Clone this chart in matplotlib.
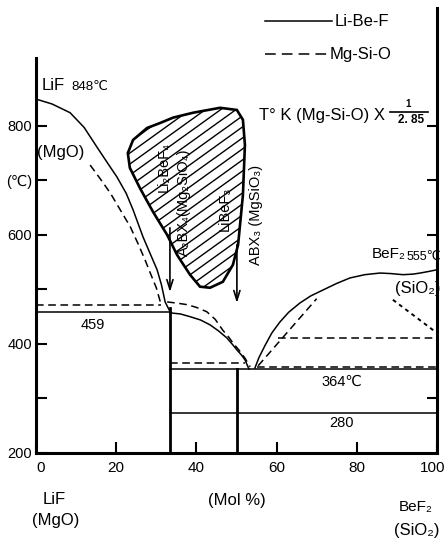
import matplotlib
matplotlib.use('Agg')
import matplotlib.pyplot as plt
import matplotlib.transforms as mtransforms
import numpy as np
from matplotlib.patches import Polygon
from matplotlib.lines import Line2D

plt.rcParams['font.family'] = ['Liberation Sans', 'DejaVu Sans']

# ---------------- data (mol % BeF2, temperature in C) ----------------
lbf_left_x = [0, 4, 8.5, 12, 15.2, 18, 20.2, 22.5, 24.2, 26.7, 28.5, 30.2, 31.3, 32.2, 33.3]
lbf_left_t = [849, 840, 824, 797, 761, 730, 706, 676, 646, 596, 565, 536, 508, 477, 461]

mso_left_x = [13.5, 16, 18.5, 21, 23.5, 25.5, 27.2, 28.5, 30, 31.2]
mso_left_t = [728, 703, 677, 646, 615, 583, 554, 530, 503, 472]

lbf_mid_x = [33.4, 36, 38.4, 41, 43.4, 45.5, 47.6, 49, 50.1, 51.2, 52.1, 53.1]
lbf_mid_t = [457, 455, 450, 444, 435, 424, 411, 399, 389, 380, 371, 354]

mso_mid_x = [32.7, 35, 37.7, 40, 42.6, 44.7, 46.6, 48, 49.1, 50.7, 52.1, 53.4]
mso_mid_t = [477, 475, 472, 467, 459, 445, 425, 413, 402, 388, 374, 358]

lbf_right_x = [54.6, 55.6, 57.1, 58.8, 60.8, 63, 65.8, 68.5, 71.6, 75, 78.3, 82, 85.8, 88.5, 91.5, 94, 95.8, 98, 100]
lbf_right_t = [356, 375, 397, 420, 440, 458, 475, 488, 499, 511, 521, 527, 530, 529, 527, 528, 530, 533, 536]

mso_right_x = [55.4, 70]
mso_right_t = [360, 483]

mso_dotted_x = [89, 100]
mso_dotted_t = [481, 420]

# horizontal invariant lines: (x_start, x_end, T)
lbf_solid_h = [(0, 33.3, 458), (33.3, 100, 354), (33.3, 100, 273)]
mso_dash_h = [(0, 31.2, 472), (33.3, 52, 365), (55, 100, 358), (60.3, 100, 411)]

# vertical compound lines: (x, T_top)
compound_x = [33.3, 50.0]
compound_top = [466, 354]

# hatched region outline
blob_x = [22.9, 24.2, 27.7, 30.9, 34.2, 39.2, 45.9, 50.1, 51.6, 52.1, 51.6, 50.4, 49.1,
          46.6, 43.4, 40.9, 38.4, 35.2, 32.7, 29.2, 25.9, 23.4]
blob_t = [750, 774, 796, 805, 815, 824, 833, 829, 811, 765, 673, 582, 545,
          514, 503, 505, 527, 563, 600, 642, 686, 723]

# arrows: x, T_start, T_end
arrow_x = [33.4, 50.1]
arrow_t0 = [613, 582]
arrow_t1 = [495, 475]

xticks = [0, 20, 40, 60, 80, 100]
yticks = [200, 300, 400, 500, 600, 700, 800]
ytick_labels = ['200', '', '400', '', '600', '(\u2103)', '800']

# ---------------- figure ----------------
W, H = 446, 539
fig = plt.figure(figsize=(W / 100, H / 100), dpi=100)
ax = fig.add_axes([36 / W, 1 - 453 / H, (437 - 36) / W, (453 - 8) / H])
ax.set_xlim(0, 100)
ax.set_ylim(200, 1016)

def fx(px):
    return px / W

def fy(py):
    return 1 - py / H

ax.spines['top'].set_visible(False)
ax.spines['right'].set_visible(False)
ax.spines['left'].set_bounds(200, 925)
for s in ['left', 'bottom']:
    ax.spines[s].set_linewidth(2.2)

ax.set_xticks(xticks)
ax.set_xticklabels([str(v) for v in xticks])
ax.set_yticks(yticks)
ax.set_yticklabels(ytick_labels)
ax.tick_params(axis='both', direction='in', length=8, width=1.5, labelsize=10.5)
ax.tick_params(axis='x', pad=6, labelsize=11)
ax.tick_params(axis='y', pad=3)

xl = ax.get_xticklabels()
xl[0].set_transform(xl[0].get_transform() + mtransforms.ScaledTranslation(5 / 100, 0, fig.dpi_scale_trans))
xl[-1].set_transform(xl[-1].get_transform() + mtransforms.ScaledTranslation(-4 / 100, 0, fig.dpi_scale_trans))

sec = ax.secondary_yaxis('right')
sec.set_yticks([300, 600, 700, 800])
sec.tick_params(direction='in', length=7, width=1.5, labelright=False)
sec.spines['right'].set_linewidth(2.2)

lw = 1.1
dash = (5, 3)

# solid (Li-Be-F)
ax.plot(lbf_left_x, lbf_left_t, color='black', lw=lw)
ax.plot(lbf_mid_x, lbf_mid_t, color='black', lw=lw)
ax.plot(lbf_right_x, lbf_right_t, color='black', lw=lw)
for x0, x1, t in lbf_solid_h:
    ax.plot([x0, x1], [t, t], color='black', lw=lw)

# dashed (Mg-Si-O)
ax.plot(mso_left_x, mso_left_t, color='black', lw=lw, dashes=dash)
ax.plot(mso_mid_x, mso_mid_t, color='black', lw=lw, dashes=dash)
ax.plot(mso_right_x, mso_right_t, color='black', lw=lw, dashes=dash)
ax.plot(mso_dotted_x, mso_dotted_t, color='black', lw=1.4, dashes=(2, 2))
for x0, x1, t in mso_dash_h:
    ax.plot([x0, x1], [t, t], color='black', lw=lw, dashes=dash)

# compound verticals
for x, t in zip(compound_x, compound_top):
    ax.plot([x, x], [200, t], color='black', lw=2.0)

# hatched region
poly = Polygon(np.column_stack([blob_x, blob_t]), closed=True, facecolor='none',
               edgecolor='black', lw=1.9, zorder=3)
ax.add_patch(poly)
slope = 0.72 * (4.01 / 0.545)
spacing = 11 / 0.545
hx = np.array([15.0, 60.0])
for c in np.arange(100, 800, spacing):
    ln, = ax.plot(hx, c + slope * (hx - 15.0), color='black', lw=1.0, zorder=2)
    ln.set_clip_path(poly)

# arrows
for x, t0, t1 in zip(arrow_x, arrow_t0, arrow_t1):
    ax.annotate('', xy=(x, t1), xytext=(x, t0),
                arrowprops=dict(arrowstyle='->,head_length=0.7,head_width=0.22',
                                color='black', lw=1.2, shrinkA=0, shrinkB=0))

# labels in the plot
fs = 10.5
ax.text(31.9, 725, 'Li\u2082BeF\u2084', rotation=90, ha='center', va='center', fontsize=fs)
ax.text(36.8, 659, 'A\u2082BX\u2084(Mg\u2082SiO\u2084)', rotation=90, ha='center', va='center', fontsize=fs)
ax.text(47.1, 648, 'LiBeF\u2083', rotation=90, ha='center', va='center', fontsize=fs)
ax.text(54.9, 637, 'ABX\u2083 (MgSiO\u2083)', rotation=90, ha='center', va='center', fontsize=fs)

ax.text(14.2, 435, '459', ha='center', va='center', fontsize=10.5)
ax.text(76.3, 330, '364\u2103', ha='center', va='center', fontsize=10.5)
ax.text(76.3, 255, '280', ha='center', va='center', fontsize=10.5)

# figure-level texts
fig.text(fx(42), fy(86), 'LiF', ha='left', va='center', fontsize=12)
fig.text(fx(71), fy(87), '848\u2103', ha='left', va='center', fontsize=9.5)
fig.text(fx(37), fy(152), '(MgO)', ha='left', va='center', fontsize=12)
fig.text(fx(372), fy(254), 'BeF\u2082', ha='left', va='center', fontsize=11)
fig.text(fx(407), fy(257), '555\u2103', ha='left', va='center', fontsize=9)
fig.text(fx(395), fy(288), '(SiO\u2082)', ha='left', va='center', fontsize=12)

fig.text(fx(259), fy(115), 'T\u00b0 K (Mg-Si-O) X', ha='left', va='center', fontsize=12)
fig.text(fx(408), fy(104), '1', ha='center', va='center', fontsize=7, fontweight='bold')
fig.add_artist(Line2D([fx(390), fx(428)], [fy(112), fy(112)], color='black', lw=1.2))
fig.text(fx(411), fy(120), '2. 85', ha='center', va='center', fontsize=8.5, fontweight='bold')

# legend
fig.add_artist(Line2D([fx(265), fx(332)], [fy(21), fy(21)], color='black', lw=lw))
fig.text(fx(335), fy(21), 'Li-Be-F', ha='left', va='center', fontsize=12)
fig.add_artist(Line2D([fx(265), fx(328)], [fy(54), fy(54)], color='black', lw=lw, dashes=(7, 4)))
fig.text(fx(330), fy(54), 'Mg-Si-O', ha='left', va='center', fontsize=12)

# bottom labels
fig.text(fx(54), fy(499), 'LiF', ha='center', va='center', fontsize=12)
fig.text(fx(56), fy(521), '(MgO)', ha='center', va='center', fontsize=12)
fig.text(fx(237), fy(501), '(Mol %)', ha='center', va='center', fontsize=12)
fig.text(fx(416), fy(507), 'BeF\u2082', ha='center', va='center', fontsize=11)
fig.text(fx(417), fy(531), '(SiO\u2082)', ha='center', va='center', fontsize=12)

fig.savefig('out.png', dpi=100)
